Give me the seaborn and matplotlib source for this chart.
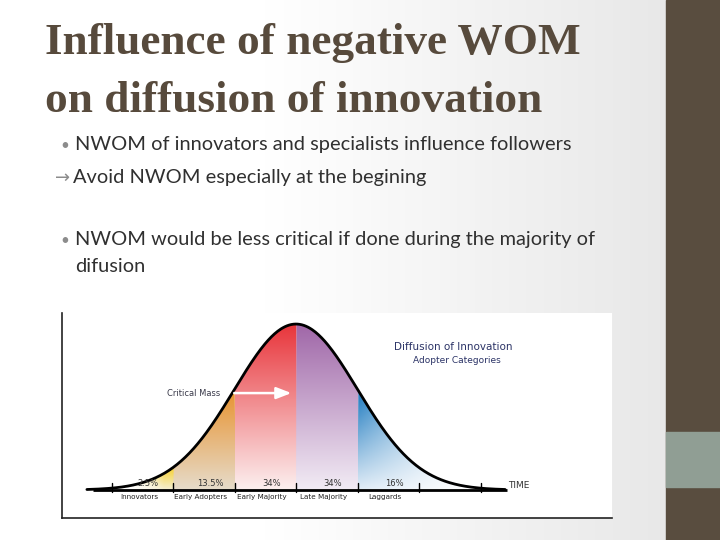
import numpy as np
import pandas as pd
import matplotlib.pyplot as plt
import matplotlib.colors as mcolors
from matplotlib.patches import Polygon, Rectangle
import seaborn as sns

# slide text
title_lines = ['Influence of negative WOM', 'on diffusion of innovation']
bullet_lines = [
    ('\u2022', 'NWOM of innovators and specialists influence followers'),
    ('\u2192', 'Avoid NWOM especially at the begining'),
    ('\u2022', 'NWOM would be less critical if done during the majority of'),
    ('', 'difusion'),
]

# diffusion chart
categories = ['Innovators', 'Early Adopters', 'Early Majority', 'Late Majority', 'Laggards']
shares = ['2.5%', '13.5%', '34%', '34%', '16%']
bounds = [-3.4, -2, -1, 0, 1, 3.4]          # segment edges, in standard deviations
ticks = [-3, -2, -1, 0, 1, 2, 3]
top_colors = ['#f6cf28', '#e8922e', '#e8353b', '#a067a8', '#1b79bf']
bottom_colors = ['#f4efd6', '#e6dccb', '#fcf0f0', '#f2ecf5', '#e2edf7']
mean, sd = 0.0, 1.0

sns.set_style('white')
fig = plt.figure(figsize=(7.2, 5.4), dpi=100)

# ---- slide background
bg = fig.add_axes([0, 0, 1, 1])
bg.set_xlim(0, 720)
bg.set_ylim(540, 0)
bg.axis('off')
grad = np.clip((np.linspace(0, 1, 300) - 0.4) / 0.6, 0, 1)[None, :]
white = np.array([1.0, 1.0, 1.0])
gray = np.array(mcolors.to_rgb('#e8e8e8'))
bg_img = white + (gray - white) * grad[..., None]
bg.imshow(bg_img, extent=[0, 666, 540, 0], aspect='auto', zorder=0)
bg.add_patch(Rectangle((666, 0), 54, 540, color='#594d3f', zorder=1))
bg.add_patch(Rectangle((666, 432), 54, 55, color='#909e94', zorder=2))

for i, line in enumerate(title_lines):
    bg.text(45, 54 + i * 58, line, fontsize=32.6, fontweight='bold',
            family='Liberation Serif', color='#574a3c', va='baseline')

body_font = ['Lato', 'DejaVu Sans']
line_y = [150, 183, 245, 272]
for (mark, text), y in zip(bullet_lines, line_y):
    if mark == '\u2022':
        bg.text(60, y, mark, fontsize=11, color='#8c8c8c', va='baseline',
                family=body_font)
        bg.text(75, y, text, fontsize=14.4, color='#303030', va='baseline',
                family=body_font)
    elif mark:
        bg.text(55, y, mark, fontsize=13, color='#8c8c8c', va='baseline',
                family=['DejaVu Sans'])
        bg.text(73, y, text, fontsize=14.4, color='#303030', va='baseline',
                family=body_font)
    else:
        bg.text(75, y, text, fontsize=14.4, color='#303030', va='baseline',
                family=body_font)

# ---- chart
ax = fig.add_axes([62 / 720, 22 / 540, 550 / 720, 205 / 540])
ax.set_facecolor('white')

xs = np.linspace(-3.4, 3.4, 400)
ys = np.exp(-0.5 * ((xs - mean) / sd) ** 2) / (sd * np.sqrt(2 * np.pi))
curve = pd.DataFrame({'x': xs, 'y': ys})

for i in range(len(categories)):
    x0, x1 = bounds[i], bounds[i + 1] + 0.02
    mask = (xs >= x0) & (xs <= x1)
    seg_x, seg_y = xs[mask], ys[mask]
    ymax = seg_y.max()
    gx = np.linspace(x0, x1, 200)
    gy = np.linspace(0, ymax, 200)
    t = (gy / ymax)[:, None, None]
    top = np.array(mcolors.to_rgb(top_colors[i]))
    bot = np.array(mcolors.to_rgb(bottom_colors[i]))
    img = bot + (top - bot) * t
    img = np.repeat(img, len(gx), axis=1)
    if i == 0:
        w = np.clip((gx + 2.75) / 0.6, 0, 1) ** 1.5
        img = white + (img - white) * w[None, :, None]
    elif i == len(categories) - 1:
        w = np.clip((2.9 - gx) / 1.9, 0, 1) ** 1.2
        img = white + (img - white) * w[None, :, None]
    im = ax.imshow(img, extent=[x0, x1, 0, ymax], origin='lower',
                   aspect='auto', zorder=1 + i * 0.01, interpolation='bilinear')
    verts = [(x0, 0)] + list(zip(seg_x, seg_y)) + [(x1, 0)]
    clip = Polygon(verts, closed=True, transform=ax.transData,
                   facecolor='none', edgecolor='none')
    ax.add_patch(clip)
    im.set_clip_path(clip)

sns.lineplot(data=curve, x='x', y='y', ax=ax, color='black', lw=2, zorder=3)

# baseline and ticks
ax.plot([-3.30, 3.43], [0, 0], color='black', lw=2, zorder=4,
        solid_capstyle='butt')
for tx in ticks:
    ax.plot([tx, tx], [-0.005, 0.017], color='black', lw=1, zorder=4)

for i, (cat, share) in enumerate(zip(categories, shares)):
    mid = (max(bounds[i], -3) + min(bounds[i + 1], 2)) / 2
    ax.text(mid + 0.1, 0.004, share, fontsize=6, color='#333333',
            ha='center', va='bottom', zorder=5)
    ax.text(mid - 0.05, -0.017, cat, fontsize=5.2, color='#222222',
            ha='center', va='center', zorder=5)

ax.text(3.45, 0.012, 'TIME', fontsize=6.5, color='#333333',
        ha='left', va='center')
ax.text(-2.10, 0.233, 'Critical Mass', fontsize=6, color='#3a3a4a',
        ha='left', va='center', zorder=5)
ax.annotate('', xy=(-0.03, 0.233), xytext=(-1.05, 0.233), zorder=5,
            arrowprops=dict(arrowstyle='-|>,head_length=0.9,head_width=0.35',
                            color='white', lw=1.8))
ax.text(2.55, 0.344, 'Diffusion of Innovation', fontsize=7.5,
        color='#2b3366', ha='center', va='center')
ax.text(2.62, 0.3125, 'Adopter Categories', fontsize=6.5,
        color='#2b3366', ha='center', va='center')

ax.set_xlim(-3.805, 5.138)
ax.set_ylim(-0.0673, 0.4255)
ax.set_xlabel('')
ax.set_ylabel('')
ax.set_xticks([])
ax.set_yticks([])
for side in ['top', 'right']:
    ax.spines[side].set_visible(False)
for side in ['left', 'bottom']:
    ax.spines[side].set_color('#222222')
    ax.spines[side].set_linewidth(1.2)

fig.savefig('out.png', dpi=100)
